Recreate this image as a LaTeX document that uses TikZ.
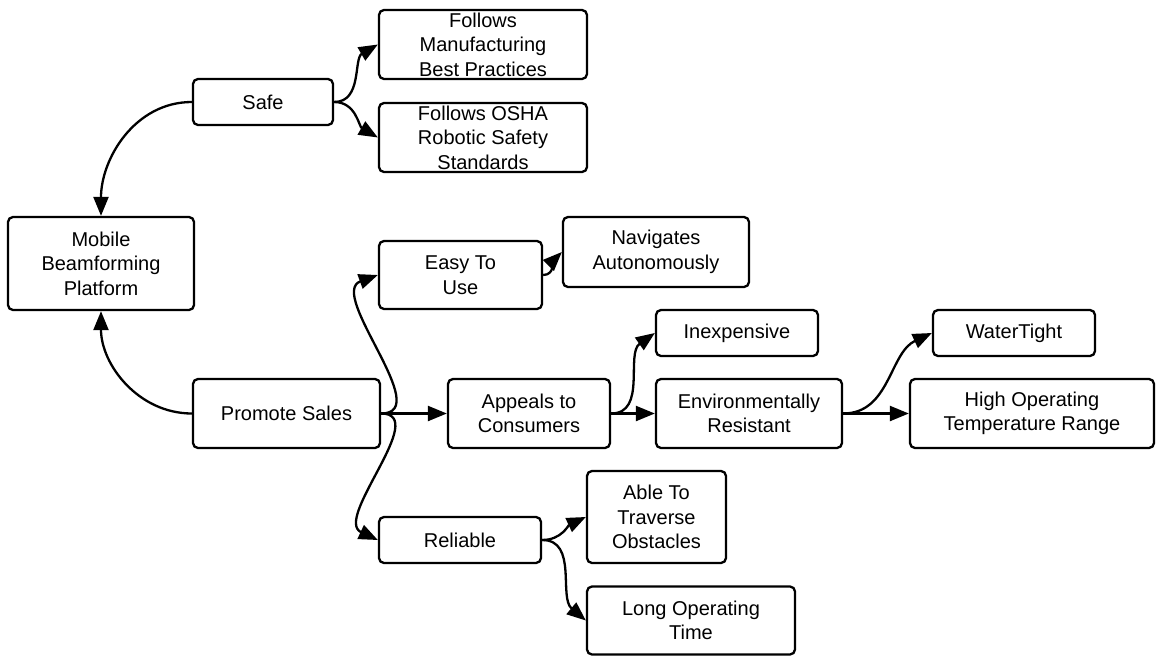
\documentclass[tikz,border=0pt]{standalone}
\usepackage{fontspec}
\setmainfont{Liberation Sans}
\usetikzlibrary{arrows.meta}

\tikzset{
	box/.style={draw, rounded corners=5pt, align=center, inner sep=0pt,
		font=\fontsize{20}{24.6}\selectfont},
	sz/.style 2 args={minimum width=#1pt, minimum height=#2pt}
}

\begin{document}
\begin{tikzpicture}[x=1pt, y=1pt, >={Triangle[length=19pt,width=15pt]}, line width=2.3pt]
	\useasboundingbox (0,0) rectangle (1157,-656);

\node[box,sz={186}{93}] (mbp) at (101,-263.5) {Mobile\\Beamforming\\Platform};
\node[box,sz={140}{46}] (safe) at (263,-102) {Safe};
\node[box,sz={208}{69}] (mfg) at (483,-44.5) {Follows\\Manufacturing\\Best Practices};
\node[box,sz={208}{69}] (osha) at (483,-137.5) {Follows OSHA\\Robotic Safety\\Standards};
\node[box,sz={163}{68}] (easy) at (460.5,-275) {Easy To\\Use};
\node[box,sz={186}{70}] (nav) at (656,-252) {Navigates\\Autonomously};
\node[box,sz={187}{69}] (promo) at (286.5,-413.5) {Promote Sales};
\node[box,sz={162}{69}] (appeal) at (529,-413.5) {Appeals to\\Consumers};
\node[box,sz={162}{46}] (cheap) at (737,-333) {Inexpensive};
\node[box,sz={186}{69}] (env) at (749,-413.5) {Environmentally\\Resistant};
\node[box,sz={162}{46}] (water) at (1014,-333) {WaterTight};
\node[box,sz={244}{69}] (temp) at (1032,-413.5) {High Operating\\Temperature Range};
\node[box,sz={162}{46}] (rel) at (460,-540) {Reliable};
\node[box,sz={139}{92}] (obst) at (656.5,-517) {Able To\\Traverse\\Obstacles};
\node[box,sz={208}{68}] (time) at (691,-620.5) {Long Operating\\Time};

\draw [->] (safe.west) to[out=180,in=90] (mbp.north);
\draw [->] (promo.west) to[out=180,in=-90] (mbp.south);
\draw [->] (safe.east) to[out=0,in=210] (mfg.west);
\draw [->] (safe.east) to[out=0,in=150] (osha.west);
\draw [->] (promo.east) to[out=0,in=200] (easy.west);
\draw [->] (promo.east) -- (appeal.west);
\draw [->] (promo.east) to[out=0,in=155] (rel.west);
\draw [->] (easy.east) to[out=0,in=225] (nav.west);
\draw [->] (appeal.east) to[out=0,in=215] (cheap.west);
\draw [->] (appeal.east) -- (env.west);
\draw [->] (env.east) to[out=0,in=205] (water.west);
\draw [->] (env.east) -- (temp.west);
\draw [->] (rel.east) to[out=0,in=205] (obst.west);
\draw [->] (rel.east) to[out=0,in=140] (time.west);
\end{tikzpicture}
\end{document}
